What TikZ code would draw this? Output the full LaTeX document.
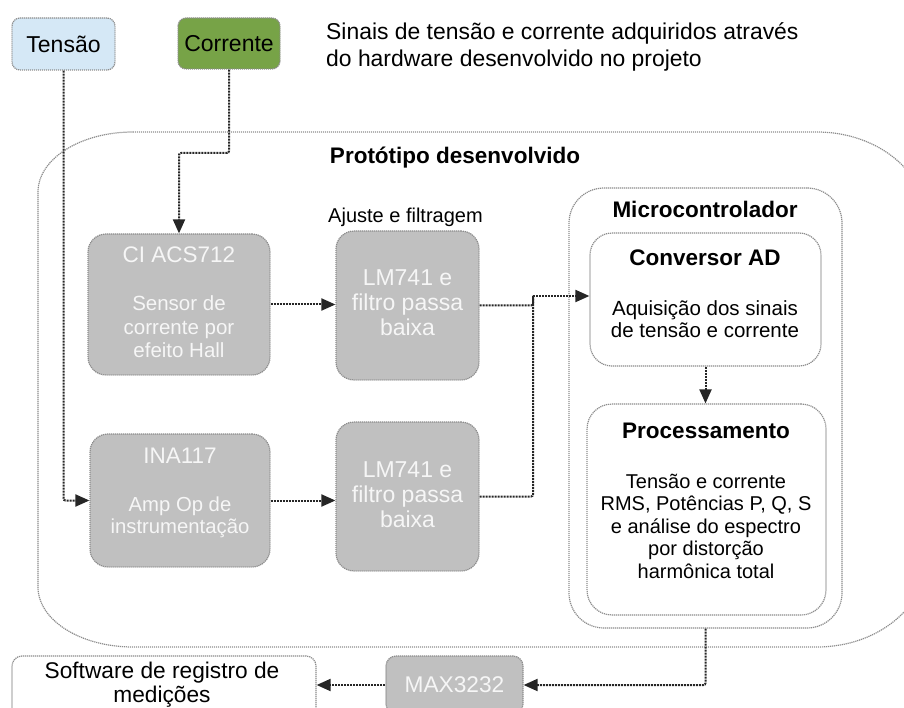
\documentclass[tikz,border=0pt]{standalone}
\usepackage{fontspec}
\setmainfont{Liberation Sans}
\usetikzlibrary{arrows.meta}
\definecolor{SinalAzul}{HTML}{D5E8F6}
\definecolor{SinalVerde}{HTML}{77A347}
\definecolor{CaixaCinza}{HTML}{C0C0C0}
\definecolor{BordaCinza}{HTML}{8C8C8C}
\definecolor{TextoClaro}{HTML}{F6F6F6}

\begin{document}
\begin{tikzpicture}[x=1pt,y=-1pt,
    caixa/.style={draw=BordaCinza, dash pattern=on 1.2pt off 0.8pt, line width=1.2pt, inner sep=0pt},
    sinal/.style={caixa, rounded corners=8pt, font=\fontsize{23}{26}\selectfont},
    chip/.style={caixa, fill=CaixaCinza, rounded corners=18pt},
    claro/.style={text=TextoClaro, inner sep=0pt, align=center},
    escuro/.style={inner sep=0pt, align=center},
    titulo/.style={escuro, font=\bfseries\fontsize{22.5}{26}\selectfont},
    fio/.style={draw=black!85, dash pattern=on 2pt off 1pt, line width=2pt, rounded corners=2pt},
    seta/.style={fio, -{Triangle[length=14pt,width=12pt]}}]
                \useasboundingbox (0,0) rectangle (904,708);

                \draw[caixa] (133,132) -- (817,132)
                    arc[start angle=-90, end angle=0, x radius=110, y radius=90] -- (927,557)
                    arc[start angle=0, end angle=90, x radius=110, y radius=90] -- (133,647)
                    arc[start angle=90, end angle=180, x radius=95, y radius=60] -- (38,192)
                    arc[start angle=180, end angle=270, x radius=95, y radius=60];
                \node[titulo] (prototipo) at (455,158) {Protótipo desenvolvido};
                \node[escuro, font=\fontsize{20}{24}\selectfont] (ajuste) at (405.5,217) {Ajuste e filtragem};

                \node[sinal, fill=SinalAzul, minimum width=103, minimum height=52] (tensao) at (63.5,44) {Tensão};
                \node[sinal, fill=SinalVerde, minimum width=102, minimum height=51] (corrente) at (229,43.5) {Corrente};
                \node[escuro, anchor=west, align=left, font=\fontsize{22.9}{27}\selectfont] (aviso) at (326,46.5)
                    {Sinais de tensão e corrente adquiridos através\\do hardware desenvolvido no projeto};

                \node[chip, minimum width=182, minimum height=141] (acs) at (179,304.5) {};
                \node[claro, font=\fontsize{22.5}{26}\selectfont] (acsnome) at (179,255) {CI ACS712};
                \node[claro, font=\fontsize{20.5}{23.5}\selectfont] (acstexto) at (179,327) {Sensor de\\corrente por\\efeito Hall};

                \node[chip, minimum width=180, minimum height=133] (ina) at (180,500.5) {};
                \node[claro, font=\fontsize{22.5}{26}\selectfont] (inanome) at (180,456) {INA117};
                \node[claro, font=\fontsize{20.3}{21.5}\selectfont] (inatexto) at (180,517.5) {Amp Op de\\instrumentação};

                \node[chip, minimum width=143, minimum height=149] (lmA) at (407.5,305.5) {};
                \node[claro, font=\fontsize{23}{25}\selectfont] (lmAtexto) at (407.5,303) {LM741 e\\filtro passa\\baixa};
                \node[chip, minimum width=143, minimum height=149] (lmB) at (407.5,496.5) {};
                \node[claro, font=\fontsize{23}{25}\selectfont] (lmBtexto) at (407.5,495) {LM741 e\\filtro passa\\baixa};

                \node[caixa, rounded corners=35pt, minimum width=273, minimum height=440] (mcu) at (705.5,408) {};
                \node[titulo] (mcunome) at (705,209) {Microcontrolador};
                \node[caixa, rounded corners=22pt, minimum width=231, minimum height=133] (adc) at (705.5,299.5) {};
                \node[titulo] (adcnome) at (705,258) {Conversor AD};
                \node[escuro, font=\fontsize{20.5}{22}\selectfont] (adctexto) at (705,319) {Aquisição dos sinais\\de tensão e corrente};
                \node[caixa, rounded corners=25pt, minimum width=239, minimum height=211] (proc) at (706.5,509.5) {};
                \node[titulo] (procnome) at (706,431) {Processamento};
                \node[escuro, font=\fontsize{20}{22.5}\selectfont] (proctexto) at (706,526)
                    {Tensão e corrente\\RMS, Potências P, Q, S\\e análise do espectro\\por distorção\\harmônica total};

                \node[caixa, fill=white, rounded corners=10pt, minimum width=304, minimum height=66] (soft) at (164,689) {};
                \node[escuro, font=\fontsize{22.7}{24}\selectfont] (softtexto) at (162,685) {Software de registro de\\medições};
                \node[chip, rounded corners=10pt, minimum width=137, minimum height=58] (max) at (454.5,685) {};
                \node[claro, font=\fontsize{22.7}{24}\selectfont] (maxtexto) at (454.5,685) {MAX3232};

                \coordinate (desvio) at (229,153);
                \coordinate (juncao) at (533,296);
                \draw[seta] (tensao.south) |- (ina.west);
                \draw[seta] (corrente.south) -- (desvio) -| (acs.north);
                \draw[seta] (acs.east) -- (acs.east -| lmA.west);
                \draw[seta] (ina.east) -- (ina.east -| lmB.west);
                \draw[fio] (lmA.east) -| (juncao);
                \draw[fio] (lmB.east) -| (juncao);
                \draw[seta] (juncao) -- (juncao -| adc.west);
                \draw[seta] (adc.south) -- (adc.south |- proc.north);
                \draw[seta] (mcu.south) |- (max.east);
                \draw[seta] (max.west) -- (max.west -| soft.east);
            \end{tikzpicture}
\end{document}
